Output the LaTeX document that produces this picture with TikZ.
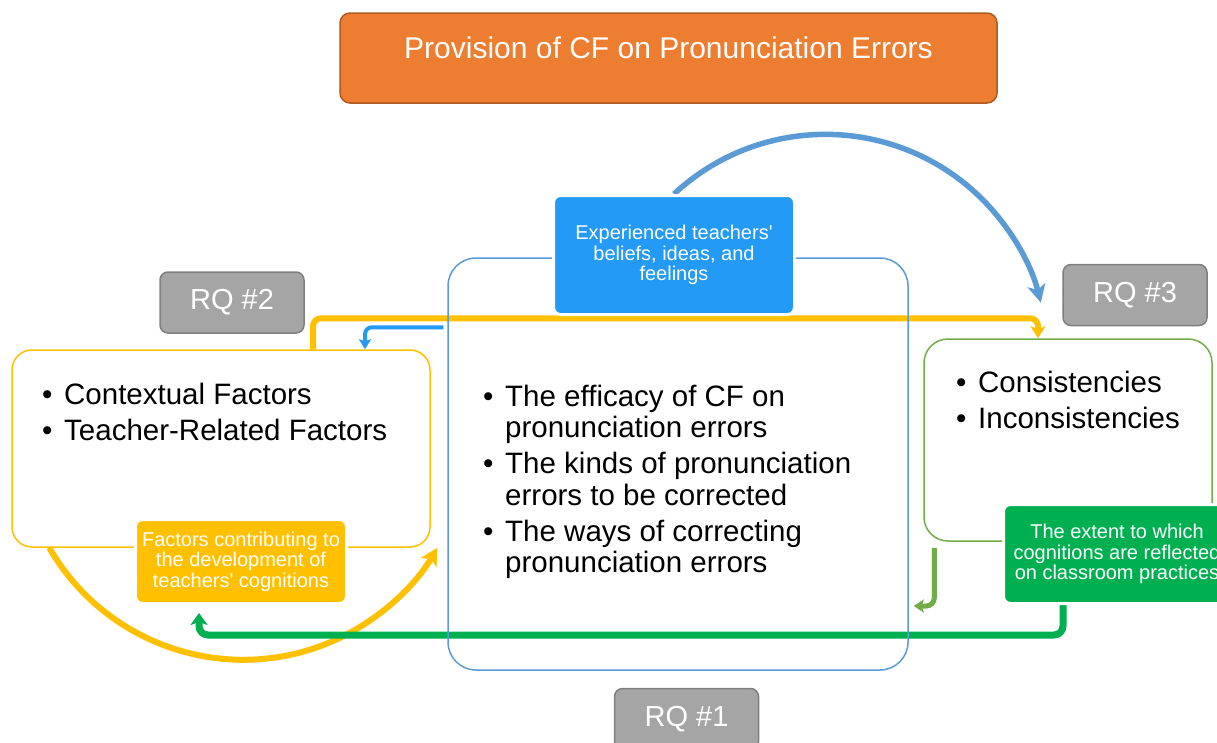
\documentclass[tikz,border=0pt]{standalone}
\usepackage{fontspec}
\setmainfont{Liberation Sans}
\setsansfont{Liberation Sans}
\usepackage{tikz}
\usetikzlibrary{positioning}
\usetikzlibrary{arrows.meta,shapes,calc,backgrounds}
\usepackage{xcolor}
\definecolor{cforange}{HTML}{ED7D31}
\definecolor{cforangeedge}{HTML}{AE5A21}
\definecolor{rqgrey}{HTML}{A5A5A5}
\definecolor{rqedge}{HTML}{7F7F7F}
\definecolor{paleblue}{HTML}{5B9BD5}
\definecolor{brightblue}{RGB}{35,154,246}
\definecolor{amber}{HTML}{FFC000}
\definecolor{leafgreen}{HTML}{70AD47}
\definecolor{deepgreen}{HTML}{00B050}
\newcommand{\bul}{\makebox[22pt][l]{\textbullet}}
\tikzset{
  basic/.style    = {rectangle, font=\sffamily, align=center, inner sep=0pt},
  titlebox/.style = {basic, rounded corners=10pt, fill=cforange, draw=cforangeedge, line width=1.5pt,
                     text=white, minimum width=657pt, text height=45pt, text depth=45pt,
                     font=\sffamily\fontsize{30}{32}\selectfont},
  rqbox/.style    = {basic, rounded corners=8pt, fill=rqgrey, draw=rqedge, line width=1.5pt, text=white,
                     minimum width=144pt, minimum height=61pt, font=\sffamily\fontsize{29}{31}\selectfont},
  framebox/.style = {basic, rounded corners=22pt, line width=1.5pt},
  notebox/.style  = {basic, rounded corners=7pt, draw=white, line width=3pt, text=white,
                     font=\sffamily\fontsize{20}{20.5}\selectfont},
  points/.style   = {anchor=base west, inner sep=0pt, align=left,
                     font=\sffamily\fontsize{29.5}{31.5}\selectfont},
  link/.style     = {line width=6pt, rounded corners=10pt}
}

\begin{document}
\begin{tikzpicture}[x=1pt, y=1pt]
\useasboundingbox (0,0) rectangle (1217,-742);

% the three question frames
\node[framebox, draw=amber, rounded corners=20pt, minimum width=418pt, minimum height=197pt] (leftbox) at (221,-448.5) {};
\node[framebox, draw=leafgreen, rounded corners=24pt, minimum width=288pt, minimum height=202pt] (rightbox) at (1068,-440) {};
\node[framebox, draw=paleblue, rounded corners=28pt, minimum width=460pt, minimum height=412pt] (cfbox) at (678,-464) {};

\node[points] (lefttext) at (42,-404) {\begin{tabular}[t]{@{}l@{}l@{}}
\bul & Contextual Factors\\[5pt]
\bul & Teacher-Related Factors
\end{tabular}};
\node[points] (righttext) at (956,-392) {\begin{tabular}[t]{@{}l@{}l@{}}
\bul & Consistencies\\[5pt]
\bul & Inconsistencies
\end{tabular}};
\node[points] (cftext) at (483,-406) {\begin{tabular}[t]{@{}l@{}l@{}}
\bul & The efficacy of CF on\\
     & pronunciation errors\\[4.5pt]
\bul & The kinds of pronunciation\\
     & errors to be corrected\\[4.5pt]
\bul & The ways of correcting\\
     & pronunciation errors
\end{tabular}};

% coloured notes
\node[notebox, fill=brightblue, minimum width=241pt, minimum height=119pt] (beliefs) at (674,-255)
  {Experienced teachers\textquotesingle\\beliefs, ideas, and\\feelings};
\node[notebox, fill=amber, minimum width=211pt, minimum height=84pt] (factors) at (241,-561.5)
  {Factors contributing to\\the development of\\teachers\textquotesingle\ cognitions};
\node[notebox, fill=deepgreen, minimum width=227pt, minimum height=99pt] (extent) at (1117,-554)
  {The extent to which\\cognitions are reflected\\on classroom practices};

\node[rqbox] (rq2) at (232,-302.5) {RQ \#2};
\node[rqbox] (rq3) at (1135,-295) {RQ \#3};
\node[rqbox, below=17pt of cfbox, xshift=8.5pt] (rq1) {RQ \#1};

\node[titlebox] (title) at (668.5,-58) {Provision of CF on Pronunciation Errors};

% connectors go under the boxes
\begin{scope}[on background layer]
  \draw[link, amber, -{Stealth[length=17pt, width=18pt, inset=4pt]}]
    ([xshift=38pt]leftbox.south west) arc[start angle=210, end angle=330, radius=224];
  \draw[link, amber, rounded corners=8pt, -{Stealth[length=12pt, width=15pt, inset=3pt]}]
    ([xshift=92pt]leftbox.north) -- ++(0,31) -| ([xshift=-30pt]rightbox.north);
  \draw[link, brightblue, line width=4pt, rounded corners=7pt, -{Stealth[length=10pt, width=12pt, inset=2pt]}]
    ([shift={(-4,-70)}]cfbox.north west) -| ([xshift=144pt]leftbox.north);
  \draw[link, leafgreen, line width=5pt, rounded corners=8pt, -{Stealth[length=10pt, width=13pt, inset=2pt]}]
    ([shift={(11,-6)}]rightbox.south west) |- ([shift={(5,-142)}]cfbox.east);
  \draw[link, paleblue, line width=5.5pt, -{Stealth[length=18pt, width=18pt, inset=5pt]}]
    (beliefs.north) arc[start angle=133, end angle=14, radius=222];
  \draw[link, deepgreen, line width=7pt, rounded corners=9pt, -{Stealth[length=12pt, width=17pt, inset=3pt]}]
    ([xshift=-54pt]extent.south) -- ++(0,-30) -| ([shift={(-42,-8)}]factors.south);
\end{scope}
\end{tikzpicture}
\end{document}
